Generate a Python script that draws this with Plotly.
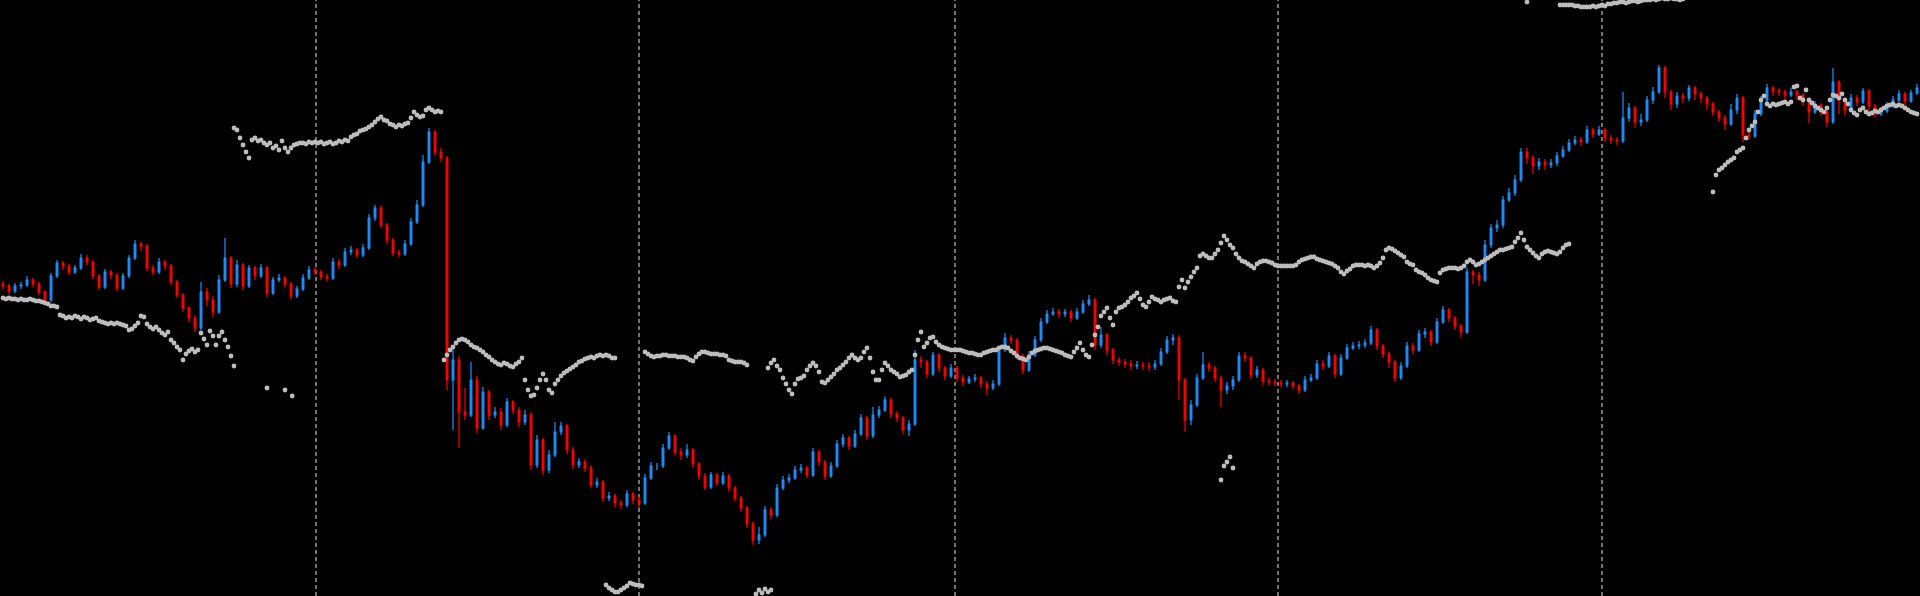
import plotly.graph_objects as go

# ---------------- candle data (bar index 0..319) ----------------
closes = [
314,309,314,315,320,316,308,300,324,337,
334,328,332,342,338,324,313,328,325,312,
324,342,356,354,332,328,338,334,318,305,
292,282,272,308,300,288,320,342,316,335,
314,332,324,332,307,320,322,316,304,311,
322,330,328,323,322,338,335,348,350,345,
352,382,392,375,360,347,346,356,378,395,
438,468,448,442,220,240,188,185,220,172,
208,185,188,175,198,190,178,185,135,160,
130,145,168,174,150,135,138,132,115,118,
102,104,97,95,106,100,97,122,134,134,
152,164,148,145,150,136,124,113,125,117,
124,112,102,92,76,60,65,90,85,112,
120,122,130,132,125,148,138,124,134,156,
162,154,166,182,164,185,190,200,186,182,
170,176,240,238,226,245,232,224,232,222,
218,221,222,216,212,216,250,262,260,244,
230,245,260,278,286,288,286,288,282,288,
296,300,255,265,250,240,238,236,234,235,
234,233,236,248,260,262,220,180,195,222,
235,232,222,210,214,220,244,242,225,230,
219,218,217,216,217,214,210,220,222,236,
234,244,226,242,252,254,255,257,270,254,
246,238,222,234,254,250,266,268,258,278,
290,282,274,268,328,325,320,355,372,375,
400,407,420,448,442,434,438,435,437,444,
450,457,460,458,470,466,470,462,460,459,
482,492,478,480,500,508,532,508,496,504,
502,512,506,502,496,488,482,476,490,502,
465,464,486,500,512,509,508,505,508,505,
498,488,495,488,478,518,500,490,502,498,
509,494,486,489,494,500,506,499,507,512,
]

opens = [
316,314,309,314,315,320,316,308,300,324,
337,334,328,332,342,338,324,313,328,325,
312,324,342,356,354,332,328,338,334,318,
305,292,282,272,308,300,288,320,342,316,
335,314,332,324,332,307,320,322,316,304,
311,322,330,328,323,322,338,335,348,350,
345,352,382,392,375,360,347,346,356,378,
395,438,468,448,442,220,240,188,185,220,
172,208,185,188,175,198,190,178,185,135,
160,130,145,168,174,150,135,138,132,115,
118,102,104,97,95,106,100,97,122,134,
134,152,164,148,145,150,136,124,113,125,
117,124,112,102,92,76,60,65,90,85,
112,120,122,130,132,125,148,138,124,134,
156,162,154,166,182,164,185,190,200,186,
182,170,176,240,238,226,245,232,224,232,
222,218,221,222,216,212,216,250,262,260,
244,230,245,260,278,286,288,286,288,282,
288,296,300,255,265,250,240,238,236,234,
235,234,233,236,248,260,262,220,180,195,
222,235,232,222,210,214,220,244,242,225,
230,219,218,217,216,217,214,210,220,222,
236,234,244,226,242,252,254,255,257,270,
254,246,238,222,234,254,250,266,268,258,
278,290,282,274,268,328,325,320,355,372,
375,400,407,420,448,442,434,438,435,437,
444,450,457,460,458,470,466,470,462,460,
459,482,492,478,480,500,508,532,508,496,
504,502,512,506,502,496,488,482,476,490,
502,465,464,486,500,512,509,508,505,508,
505,498,488,495,488,478,518,500,490,502,
498,509,494,486,489,494,500,506,499,507,
]

highs = [
319,316,317,318,324,322,318,310,327,340,
339,336,335,346,345,340,326,331,330,327,
327,345,360,358,356,335,342,340,336,320,
307,294,285,318,312,304,325,362,344,340,
337,335,334,336,334,323,326,324,318,314,
326,334,333,330,326,342,341,352,354,352,
356,386,395,394,377,362,350,360,382,400,
445,472,470,452,444,253,244,212,238,224,
213,210,193,192,202,200,193,190,188,165,
162,150,178,178,176,153,142,141,135,122,
120,108,106,100,110,108,104,126,138,137,
156,168,166,152,156,152,138,127,128,127,
128,126,114,104,94,78,73,94,93,116,
124,126,134,136,134,152,150,140,138,160,
166,164,170,186,184,193,194,204,202,189,
184,180,250,244,240,248,247,234,236,234,
225,224,226,224,219,220,254,267,265,262,
246,249,264,282,290,292,291,291,290,292,
300,305,302,273,267,252,243,241,240,239,
238,238,240,252,264,266,265,222,200,226,
248,238,234,224,218,224,248,248,244,234,
232,222,221,220,220,219,216,224,226,240,
240,248,246,246,256,258,259,261,274,272,
256,248,240,238,258,257,270,272,270,282,
294,292,284,276,332,330,328,360,376,380,
404,412,425,452,452,445,442,441,441,448,
454,461,464,463,474,472,474,472,465,463,
508,497,494,486,504,513,535,534,510,508,
507,515,514,509,504,498,490,485,496,506,
504,472,490,504,516,514,512,510,512,510,
507,500,499,497,490,532,520,502,506,505,
512,511,496,493,498,504,510,508,510,516,
]

lows = [
311,306,307,311,313,313,305,296,298,322,
330,325,326,330,335,321,310,311,321,309,
310,322,340,349,329,325,326,330,315,302,
288,278,268,270,294,283,286,318,312,313,
310,312,320,322,303,305,318,312,301,302,
309,320,325,320,319,320,331,333,345,342,
343,350,379,372,356,344,343,344,354,376,
393,436,444,438,210,170,152,180,183,167,
170,180,182,170,173,186,173,175,130,132,
125,127,143,165,146,131,132,128,112,112,
98,99,93,91,93,96,92,95,120,130,
132,150,145,140,142,132,120,110,111,114,
115,108,99,88,72,55,56,63,81,83,
110,117,120,127,122,123,134,120,122,132,
153,150,152,164,160,162,182,188,182,178,
166,164,174,232,222,224,228,220,222,218,
214,216,218,212,205,210,214,248,256,240,
226,228,243,258,276,284,282,283,278,280,
286,294,250,252,245,236,234,232,230,231,
230,229,230,234,246,255,200,168,175,193,
220,228,218,193,206,210,218,238,221,222,
215,215,214,213,213,211,206,208,218,220,
230,232,222,224,240,250,251,252,255,250,
242,232,218,220,232,246,248,262,254,256,
276,278,270,263,266,316,314,318,352,368,
372,398,404,418,436,426,430,430,432,434,
442,448,455,454,456,462,464,458,456,455,
457,478,472,474,478,496,506,502,490,492,
497,499,500,497,490,484,478,470,474,486,
458,460,462,484,498,504,504,501,503,500,
494,477,486,484,473,476,486,485,488,494,
496,488,483,484,487,492,498,495,497,505,
]

# ---------------- second instrument (grey dots), half-bar steps ----------------
grey_a_start = 0.0
grey_a = [
302,301,302,301,301,300,301,300,300,301,
300,299,299,298,297,296,294,294,293,285,
284,282,283,282,284,283,281,283,282,280,
281,282,279,278,277,276,277,276,277,276,
275,274,270,271,274,277,284,283,276,273,
271,273,270,267,265,268,260,257,253,250,
240,246,249,251,248,250,267,261,255,269,
264,255,264,268,260,253,244,234,
]
grey_loose_x = [44.0, 47.0, 48.2, 203.0, 203.5, 204.0, 204.5, 205.0, 254.0]
grey_loose_y = [212, 210, 204, 120, 134, 138, 143, 132, 598]

grey_b_start = 38.5
grey_b = [
472,470,462,455,448,442,460,462,459,460,
457,455,457,452,454,450,459,452,448,452,
455,456,457,457,456,458,457,458,457,458,
456,457,458,456,457,459,458,460,459,463,
465,466,469,470,471,473,475,478,481,483,
480,479,476,475,473,475,474,476,477,482,
488,485,483,484,490,492,490,488,489,488,
]

grey_c_start = 73.5
grey_c = [
240,245,250,253,257,260,261,260,258,255,
253,252,250,248,245,243,240,238,236,235,
237,236,234,233,236,238,242,220,210,204,
205,212,220,226,220,210,207,216,220,224,
227,229,231,233,235,238,239,241,242,243,
242,244,245,244,245,244,242,242,
]

grey_d_start = 100.5
grey_d = [15,12,10,8,8,10,12,14,17,16,15,15,14]

grey_e_start = 107.0
grey_e = [
248,246,244,243,244,244,245,245,244,244,
244,243,243,243,242,240,239,243,246,248,
248,247,246,246,246,245,245,244,240,239,
238,238,238,237,235,
]

grey_f_start = 125.5
grey_f = [6,10,7,11,8,10]

grey_g_start = 127.5
grey_g = [
232,237,240,234,230,222,216,210,206,216,
221,222,224,230,234,237,234,228,218,217,
220,223,226,230,232,235,238,242,245,242,
240,242,248,252,242,228,220,
]

grey_i_start = 146.0
grey_i = [
220,230,237,234,230,228,226,223,224,225,
228,230,245,260,268,253,257,262,263,258,
255,253,252,251,250,250,250,250,249,248,
247,247,246,245,245,247,248,249,250,250,
252,253,253,252,249,247,244,242,241,240,
243,247,249,250,251,252,252,251,250,249,
248,247,245,244,243,248,252,257,250,245,
243,255,265,273,284,288,292,282,275,288,
292,293,295,298,302,304,307,301,295,293,
298,303,301,300,298,300,301,302,299,298,
313,320,312,318,323,328,332,344,346,344,
342,342,346,350,357,364,360,355,352,346,
342,339,338,336,334,332,336,338,339,339,
338,337,335,334,334,334,334,334,334,335,
338,340,341,342,343,343,341,340,339,338,
337,336,334,332,328,326,329,331,334,335,
335,335,334,335,334,332,334,337,342,350,
352,351,349,347,345,343,338,336,335,330,
328,327,325,322,320,319,318,327,330,331,
332,332,332,331,332,334,338,340,338,335,
336,338,340,342,344,346,348,350,350,351,
352,353,358,362,367,360,353,350,347,344,
342,346,348,349,348,347,346,348,352,355,
356,
]

grey_top_start = 259.5
grey_top = [
595,595,595,595,595,594,594,593,593,593,
593,594,593,594,595,594,596,596,597,597,
598,598,597,598,599,599,598,599,600,600,
600,601,600,601,602,601,601,602,601,601,
600,601,
]

grey_j_start = 285.0
grey_j = [
408,425,430,432,435,438,440,442,448,450,
452,462,470,474,478,488,500,504,496,494,
496,495,496,497,498,496,498,513,514,502,
500,510,500,497,494,492,490,488,492,500,
505,504,502,506,500,496,490,487,485,490,
492,488,486,487,489,488,490,492,494,495,
496,494,495,494,492,490,488,487,486,
]

# period separators (bar index positions)
separators = [52.17, 106.0, 158.67, 212.5, 266.5]

bars = list(range(len(closes)))

grey_x, grey_y = [], []
for start, vals in [(grey_a_start, grey_a), (grey_b_start, grey_b), (grey_c_start, grey_c),
                    (grey_d_start, grey_d), (grey_e_start, grey_e), (grey_f_start, grey_f),
                    (grey_g_start, grey_g), (grey_i_start, grey_i), (grey_top_start, grey_top),
                    (grey_j_start, grey_j)]:
    for k, v in enumerate(vals):
        grey_x.append(start + 0.5 * k)
        grey_y.append(v)
grey_x += grey_loose_x
grey_y += grey_loose_y

fig = go.Figure()
fig.add_trace(go.Scatter(
    x=grey_x, y=grey_y, mode="markers",
    marker=dict(color="#BDBDBD", size=4.8, symbol="circle", line=dict(width=0)),
    hoverinfo="skip", showlegend=False,
))
fig.add_trace(go.Candlestick(
    x=bars, open=opens, high=highs, low=lows, close=closes,
    increasing=dict(line=dict(color="#1E90FF", width=1.2), fillcolor="#1E90FF"),
    decreasing=dict(line=dict(color="#FF0000", width=1.2), fillcolor="#FF0000"),
    whiskerwidth=0, showlegend=False,
))

for s in separators:
    fig.add_shape(type="line", xref="x", yref="paper", x0=s, x1=s, y0=0, y1=1,
                  line=dict(color="#E6E6E6", width=1, dash="4px,3px"), layer="below")

fig.update_layout(
    width=1920, height=596,
    margin=dict(l=0, r=0, t=0, b=0),
    paper_bgcolor="#000000", plot_bgcolor="#000000",
    showlegend=False, boxgap=0.6,
    xaxis=dict(range=[-0.5, 319.5], visible=False, showgrid=False, zeroline=False,
               rangeslider=dict(visible=False)),
    yaxis=dict(range=[4, 600], visible=False, showgrid=False, zeroline=False),
)

fig.write_html(
    "out.html",
    config={"displayModeBar": False},
    post_script="document.body.style.margin='0';document.body.style.background='#000';",
)
